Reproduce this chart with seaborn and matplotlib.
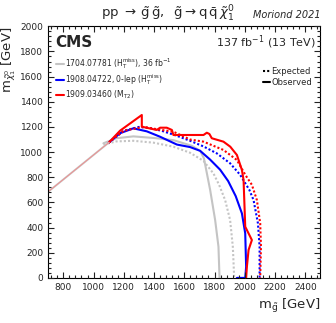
import numpy as np
import pandas as pd
import seaborn as sns
import matplotlib.pyplot as plt
from matplotlib.lines import Line2D
from matplotlib.ticker import MultipleLocator

# contour points (m_gluino, m_lsp) in GeV
diag_x = [700, 1100]
diag_y = [685, 1075]
red_obs_x = [1100, 1175, 1319, 1319, 1418, 1440, 1484, 1518, 1528, 1638, 1727, 1749, 1766, 1782, 1859, 1904, 1948, 1981, 1992, 2003, 2047, 2025, 2014, 2009]
red_obs_y = [1075, 1170, 1295, 1202, 1176, 1194, 1194, 1176, 1136, 1136, 1136, 1154, 1144, 1110, 1083, 1043, 977, 858, 778, 407, 301, 222, 89, 0]
red_exp_x = [1100, 1200, 1330, 1440, 1528, 1638, 1727, 1859, 1948, 2003, 2047, 2080, 2102, 2107, 2102]
red_exp_y = [1075, 1170, 1200, 1178, 1162, 1100, 1083, 1017, 937, 820, 740, 619, 434, 248, 0]
blue_obs_x = [1100, 1175, 1263, 1352, 1440, 1551, 1638, 1705, 1771, 1837, 1890, 1940, 1981, 2003, 2009, 2003, 1948]
blue_obs_y = [1075, 1150, 1189, 1165, 1122, 1060, 1040, 1010, 940, 860, 770, 650, 513, 354, 89, 0, 0]
blue_exp_x = [1100, 1200, 1300, 1380, 1462, 1550, 1638, 1727, 1815, 1903, 1969, 2030, 2058, 2087, 2098, 2098]
blue_exp_y = [1075, 1170, 1200, 1190, 1165, 1130, 1090, 1045, 990, 911, 820, 700, 619, 434, 248, 0]
gray_obs_x = [1065, 1150, 1263, 1400, 1528, 1650, 1705, 1730, 1771, 1804, 1826, 1833]
gray_obs_y = [1070, 1110, 1125, 1112, 1095, 1050, 1010, 950, 699, 460, 248, 0]
gray_exp_x = [1065, 1150, 1263, 1396, 1528, 1638, 1727, 1793, 1830, 1870, 1903, 1921, 1930]
gray_exp_y = [1060, 1085, 1090, 1075, 1043, 995, 930, 830, 740, 619, 460, 248, 0]

sns.set_style('white')
fig = plt.figure(figsize=(3.36, 3.23), dpi=100)
ax = fig.add_axes([0.1435, 0.1396, 0.810, 0.779])
ax.set_axisbelow(False)

RED, BLUE, GRAY = '#ff0000', '#0000ff', '#c4c4c4'
DOT = (0, (1, 1))
curves = [
    (gray_exp_x, gray_exp_y, GRAY, DOT),
    (gray_obs_x, gray_obs_y, GRAY, '-'),
    (blue_exp_x, blue_exp_y, BLUE, DOT),
    (blue_obs_x, blue_obs_y, BLUE, '-'),
    (red_exp_x, red_exp_y, RED, DOT),
    (red_obs_x, red_obs_y, RED, '-'),
]
for xs, ys, col, ls in curves:
    df = pd.DataFrame({'x': xs, 'y': ys})
    sns.lineplot(data=df, x='x', y='y', sort=False, estimator=None,
                 color=col, linestyle=ls, linewidth=1.5, ax=ax)
# the diagonal where all contours overlap
sns.lineplot(x=diag_x, y=diag_y, color=GRAY, linewidth=1.4, ax=ax)
sns.lineplot(x=diag_x, y=diag_y, color='#ff8080', linewidth=0.5, ax=ax)

ax.set_xlim(700, 2500)
ax.set_ylim(0, 2000)
ax.xaxis.set_major_locator(MultipleLocator(200))
ax.xaxis.set_minor_locator(MultipleLocator(40))
ax.yaxis.set_major_locator(MultipleLocator(200))
ax.yaxis.set_minor_locator(MultipleLocator(40))
ax.tick_params(which='both', direction='in', top=True, right=True, bottom=True, left=True,
               labelsize=6.5, color='#222222')
ax.tick_params(which='major', length=4.5, width=0.8)
ax.tick_params(which='minor', length=2.5, width=0.8)
for s in ax.spines.values():
    s.set_linewidth(0.8)
    s.set_color('black')
ax.set_xlabel(r'm$_{\tilde{\mathrm{g}}}$ [GeV]', fontsize=9.5, loc='right')
ax.set_ylabel(r'm$_{\tilde{\chi}^0_1}$ [GeV]', fontsize=9.5, loc='top', labelpad=2)

fig.text(0.50, 0.958, r'pp $\rightarrow\,\tilde{\mathrm{g}}\,\tilde{\mathrm{g}},\;\;\tilde{\mathrm{g}}\rightarrow\mathrm{q}\,\bar{\mathrm{q}}\,\tilde{\chi}^0_1$',
         ha='center', va='center', fontsize=9.5)
fig.text(0.955, 0.955, 'Moriond 2021', ha='right', va='center', fontsize=7, style='italic')
ax.text(0.025, 0.935, 'CMS', transform=ax.transAxes, fontsize=11, fontweight='bold', va='center')
ax.text(0.985, 0.935, r'137 fb$^{-1}$ (13 TeV)', transform=ax.transAxes, fontsize=8, ha='right', va='center')

h1 = [Line2D([], [], color=GRAY, lw=1.5), Line2D([], [], color=BLUE, lw=1.5), Line2D([], [], color=RED, lw=1.5)]
l1 = [r'1704.07781 (H$_{\mathrm{T}}^{\mathrm{miss}}$), 36 fb$^{-1}$',
      r'1908.04722, 0-lep (H$_{\mathrm{T}}^{\mathrm{miss}}$)',
      r'1909.03460 (M$_{\mathrm{T2}}$)']
leg1 = ax.legend(h1, l1, loc='upper left', bbox_to_anchor=(0.015, 0.895), frameon=False,
                 fontsize=5.5, handlelength=1.0, handletextpad=0.2, labelspacing=0.15, borderpad=0)
ax.add_artist(leg1)
h2 = [Line2D([], [], color='black', lw=1.5, ls=DOT), Line2D([], [], color='black', lw=1.5)]
ax.legend(h2, ['Expected', 'Observed'], loc='upper right', bbox_to_anchor=(0.985, 0.855), frameon=False,
          fontsize=6, handlelength=0.8, handletextpad=0.2, labelspacing=0.2, borderpad=0)

fig.savefig('out.png', dpi=100)
